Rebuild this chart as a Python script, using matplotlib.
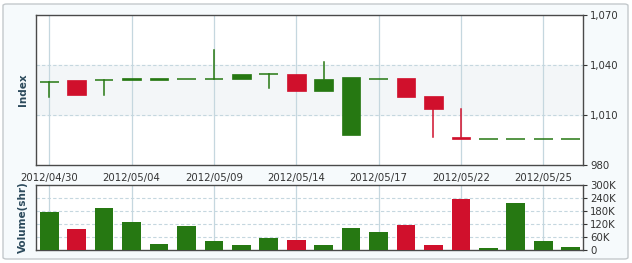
import matplotlib
matplotlib.use("Agg")
import matplotlib.pyplot as plt
from matplotlib.patches import FancyBboxPatch, Rectangle
import numpy as np

dates = ["2012/04/30", "2012/05/02", "2012/05/03", "2012/05/04", "2012/05/07",
         "2012/05/08", "2012/05/09", "2012/05/10", "2012/05/11", "2012/05/14",
         "2012/05/15", "2012/05/16", "2012/05/17", "2012/05/18", "2012/05/21",
         "2012/05/22", "2012/05/23", "2012/05/24", "2012/05/25", "2012/05/29"]
opens  = [1029.6, 1031.0, 1030.8, 1031.0, 1031.0, 1031.8, 1031.8, 1031.6, 1034.6, 1034.6,
          1024.6, 998.0, 1031.8, 1032.0, 1021.2, 996.8, 995.6, 995.6, 995.6, 995.6]
highs  = [1029.6, 1031.0, 1030.8, 1031.8, 1031.8, 1031.8, 1049.0, 1034.6, 1034.6, 1034.6,
          1042.0, 1032.6, 1031.8, 1032.0, 1021.2, 1013.8, 995.6, 995.6, 995.6, 995.6]
lows   = [1021.0, 1022.0, 1022.0, 1031.0, 1031.0, 1031.8, 1031.8, 1031.6, 1026.0, 1024.6,
          1024.6, 998.0, 1031.8, 1020.6, 997.0, 995.6, 995.6, 995.6, 995.6, 995.6]
closes = [1029.6, 1022.0, 1030.8, 1031.8, 1031.8, 1031.8, 1031.8, 1034.6, 1034.6, 1024.6,
          1031.8, 1032.6, 1031.8, 1020.6, 1013.6, 995.6, 995.6, 995.6, 995.6, 995.6]
volumes = [177, 95, 195, 128, 29, 112, 41, 23, 57, 45,
           23, 102, 82, 115, 23, 235, 8, 218, 40, 15]  # thousands of shares

tick_idx = [0, 3, 6, 9, 12, 15, 18]
price_ticks = [980, 1010, 1040, 1070]
vol_ticks = [0, 60, 120, 180, 240, 300]

GREEN = "#267812"
RED = "#d0102c"
GRIDC = "#c5d7df"

fig = plt.figure(figsize=(6.32, 2.63), dpi=100)
fig.patch.set_facecolor("white")
frame = FancyBboxPatch((3/632, 4/263), 625/632, 255/263,
                       boxstyle="round,pad=0,rounding_size=0.006",
                       transform=fig.transFigure, facecolor="#f6fafc",
                       edgecolor="#c4c9cc", linewidth=1.0, zorder=-10)
fig.patches.append(frame)

x = np.arange(len(dates))
xlim = (-0.48, 19.45)

ax = fig.add_axes([36/632, 1-165/263, 547/632, 150/263])
ax.set_facecolor("white")
ax.set_xlim(*xlim)
ax.set_ylim(980, 1070)
ax.axhspan(1010, 1040, color="#f3f6f8", zorder=0)
for t in [1010, 1040]:
    ax.axhline(t, color=GRIDC, linestyle=(0, (3, 2)), linewidth=0.8, zorder=1)
for i in tick_idx:
    ax.axvline(i, color=GRIDC, linewidth=0.9, zorder=1)

w = 0.68
for i in range(len(dates)):
    o, h, l, c = opens[i], highs[i], lows[i], closes[i]
    col = GREEN if c >= o else RED
    top, bot = max(o, c), min(o, c)
    if h > top:
        ax.plot([i, i], [top, h], color=col, linewidth=1.1, zorder=3)
    if l < bot:
        ax.plot([i, i], [l, bot], color=col, linewidth=1.1, zorder=3)
    if top - bot < 0.3:
        ax.plot([i - w/2, i + w/2], [top, top], color=col, linewidth=1.1, zorder=3,
                solid_capstyle="butt")
    else:
        hgt = max(top - bot, 1.2)
        ax.add_patch(Rectangle((i - w/2, bot), w, hgt, facecolor=col,
                               edgecolor=col, linewidth=0.5, zorder=4))

ax.yaxis.tick_right()
ax.set_yticks(price_ticks)
ax.set_yticklabels([f"{t:,}" for t in price_ticks])
ax.set_xticks(tick_idx)
ax.set_xticklabels([dates[i] for i in tick_idx])
ax.tick_params(axis="both", length=3, labelsize=7.3, colors="#333333", pad=2)
ax.tick_params(axis="x", length=0, pad=6)
for s in ax.spines.values():
    s.set_color("#4a4a4a")
    s.set_linewidth(1.0)
ax.set_ylabel("Index", fontsize=7.5, fontweight="bold", color="#2c4a5c", labelpad=6)
ax.yaxis.set_label_position("left")

axv = fig.add_axes([36/632, 1-250/263, 547/632, 65/263])
axv.set_facecolor("white")
axv.set_xlim(*xlim)
axv.set_ylim(0, 300)
for t in [60, 120, 180, 240]:
    axv.axhline(t, color=GRIDC, linestyle=(0, (3, 2)), linewidth=0.8, zorder=1)
for i in tick_idx:
    axv.axvline(i, color=GRIDC, linewidth=0.9, zorder=1)
vcols = [GREEN if closes[i] >= opens[i] else RED for i in range(len(dates))]
axv.bar(x, volumes, width=w, color=vcols, zorder=3)
axv.yaxis.tick_right()
axv.set_yticks(vol_ticks)
axv.set_yticklabels([f"{t}K" if t else "0" for t in vol_ticks])
axv.set_xticks([])
axv.tick_params(axis="y", length=3, labelsize=7.3, colors="#333333", pad=2)
for s in axv.spines.values():
    s.set_color("#4a4a4a")
    s.set_linewidth(1.0)
axv.set_ylabel("Volume(shr)", fontsize=7.5, fontweight="bold", color="#2c4a5c", labelpad=6)
axv.yaxis.set_label_position("left")

fig.savefig("out.png", dpi=100, facecolor=fig.get_facecolor())
